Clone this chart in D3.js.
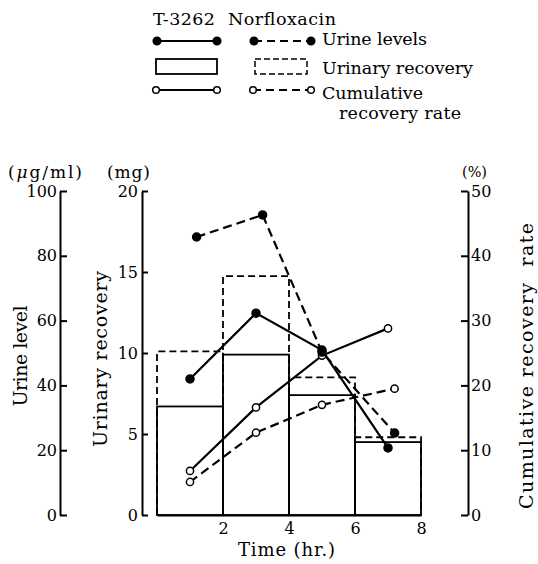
<!DOCTYPE html>
<meta charset="utf-8">
<head>
<style>
body { margin: 0; background: #fff; }
svg { display: block; }
text { font-family: "DejaVu Serif", serif; fill: #000; }
.axis text { font-family: "DejaVu Serif", serif; font-size: 16px; }
.axis path, .axis line { stroke: #000; stroke-width: 2px; }
</style>
<script src="https://d3js.org/d3.v7.min.js"></script>
</head>
<body>
<svg width="538" height="564"></svg>
<script>

// urinary recovery bars (mg), per 2 hr collection period
var binStart = [0, 2, 4, 6];
var binEnd = [2, 4, 6, 8];
var recoveryT3262 = [6.7, 9.9, 7.4, 4.5];
var recoveryNorflox = [10.1, 14.75, 8.5, 4.8];

// urine levels (ug/ml)
var urineTimeT3262 = [1, 3, 5, 7];
var urineT3262 = [42.0, 62.3, 50.9, 20.7];
var urineTimeNorflox = [1.2, 3.2, 5, 7.2];
var urineNorflox = [85.8, 92.6, 50.3, 25.3];

// cumulative recovery rate (%)
var cumTimeT3262 = [1, 3, 5, 7];
var cumT3262 = [6.8, 16.6, 24.6, 28.8];
var cumTimeNorflox = [1, 3, 5, 7.2];
var cumNorflox = [5.1, 12.7, 17.0, 19.5];

var xTicks = [2, 4, 6, 8];
var urineTicks = [0, 20, 40, 60, 80, 100];
var mgTicks = [0, 5, 10, 15, 20];
var pctTicks = [0, 10, 20, 30, 40, 50];

var svg = d3.select("svg");

var x = d3.scaleLinear().domain([0, 8]).range([157, 421]);
var yUrine = d3.scaleLinear().domain([0, 100]).range([515, 191]);
var yMg = d3.scaleLinear().domain([0, 20]).range([515, 191]);
var yPct = d3.scaleLinear().domain([0, 50]).range([515, 191]);

// axes
svg.append("g")
    .attr("class", "axis")
    .attr("transform", "translate(60,0)")
    .call(d3.axisLeft(yUrine).tickValues(urineTicks).tickSize(-7).tickSizeOuter(0).tickPadding(3))
    .attr("font-family", null).attr("font-size", null);

svg.append("g")
    .attr("class", "axis")
    .attr("transform", "translate(142,0)")
    .call(d3.axisLeft(yMg).tickValues(mgTicks).tickSize(-6).tickSizeOuter(0).tickPadding(4))
    .attr("font-family", null).attr("font-size", null);

svg.append("g")
    .attr("class", "axis")
    .attr("transform", "translate(468,0)")
    .call(d3.axisRight(yPct).tickValues(pctTicks).tickSize(-7).tickSizeOuter(0).tickPadding(3))
    .attr("font-family", null).attr("font-size", null);

svg.append("g")
    .attr("class", "axis")
    .attr("transform", "translate(0,515)")
    .call(d3.axisBottom(x).tickValues(xTicks).tickSize(0).tickSizeOuter(0).tickPadding(8))
    .attr("font-family", null).attr("font-size", null);

// bars
var bars = binStart.map(function(d, i) {
  return {x0: binStart[i], x1: binEnd[i], a: recoveryT3262[i], b: recoveryNorflox[i]};
});

svg.append("g").selectAll("path")
  .data(bars)
  .enter().append("path")
    .attr("d", function(d) {
      return "M" + x(d.x0) + "," + yMg(0) + "V" + yMg(d.b) + "H" + x(d.x1) + "V" + yMg(0);
    })
    .attr("fill", "none")
    .attr("stroke", "#000")
    .attr("stroke-width", 1.8)
    .attr("stroke-dasharray", "7,4");

svg.append("g").selectAll("rect")
  .data(bars)
  .enter().append("rect")
    .attr("x", function(d) { return x(d.x0); })
    .attr("y", function(d) { return yMg(d.a); })
    .attr("width", function(d) { return x(d.x1) - x(d.x0); })
    .attr("height", function(d) { return yMg(0) - yMg(d.a); })
    .attr("fill", "none")
    .attr("stroke", "#000")
    .attr("stroke-width", 1.8);

function pairs(ts, vs) {
  return ts.map(function(t, i) { return [t, vs[i]]; });
}

function drawSeries(data, yScale, dashed) {
  var line = d3.line()
      .x(function(d) { return x(d[0]); })
      .y(function(d) { return yScale(d[1]); });
  svg.append("path")
      .datum(data)
      .attr("d", line)
      .attr("fill", "none")
      .attr("stroke", "#000")
      .attr("stroke-width", 2.2)
      .attr("stroke-dasharray", dashed ? "9,5" : null);
}

var cumA = pairs(cumTimeT3262, cumT3262);
var cumB = pairs(cumTimeNorflox, cumNorflox);
var urA = pairs(urineTimeT3262, urineT3262);
var urB = pairs(urineTimeNorflox, urineNorflox);

drawSeries(cumA, yPct, false);
drawSeries(cumB, yPct, true);
drawSeries(urA, yUrine, false);
drawSeries(urB, yUrine, true);

function drawDots(data, yScale, filled) {
  svg.append("g").selectAll("circle")
    .data(data)
    .enter().append("circle")
      .attr("cx", function(d) { return x(d[0]); })
      .attr("cy", function(d) { return yScale(d[1]); })
      .attr("r", filled ? 4 : 3.6)
      .attr("fill", filled ? "#000" : "#fff")
      .attr("stroke", "#000")
      .attr("stroke-width", 1.5);
}

drawDots(cumA, yPct, false);
drawDots(cumB, yPct, false);
drawDots(urA, yUrine, true);
drawDots(urB, yUrine, true);

// axis titles and units
function vtitle(label, bx, cy, len) {
  svg.append("text")
      .attr("transform", "translate(" + bx + "," + cy + ") rotate(-90)")
      .attr("text-anchor", "middle")
      .attr("font-size", 19)
      .attr("textLength", len)
      .attr("lengthAdjust", "spacing")
      .style("white-space", "pre")
      .text(label);
}
vtitle("Urine level", 27, 356, 101);
vtitle("Urinary recovery", 107, 359, 176);
vtitle("Cumulative recovery  rate", 533, 366, 286);

var unitUg = svg.append("text")
    .attr("x", 8).attr("y", 178)
    .attr("font-size", 17)
    .attr("textLength", 74)
    .attr("lengthAdjust", "spacing")
    .style("white-space", "pre");
unitUg.append("tspan").text("(");
unitUg.append("tspan").attr("font-style", "italic").text("μ");
unitUg.append("tspan").text("g/ml)");

svg.append("text")
    .attr("x", 107).attr("y", 178)
    .attr("font-size", 17)
    .attr("textLength", 43)
    .attr("lengthAdjust", "spacing")
    .text("(mg)");

svg.append("text")
    .attr("x", 462).attr("y", 177)
    .attr("font-size", 15)
    .attr("textLength", 25)
    .attr("lengthAdjust", "spacingAndGlyphs")
    .text("(%)");

svg.append("text")
    .attr("x", 238).attr("y", 556)
    .attr("font-size", 18)
    .attr("textLength", 97)
    .attr("lengthAdjust", "spacing")
    .text("Time (hr.)");

// legend
var legend = svg.append("g");

function legendText(label, x0, y0, len) {
  legend.append("text")
      .attr("x", x0).attr("y", y0)
      .attr("font-size", 17.5)
      .attr("textLength", len)
      .attr("lengthAdjust", "spacing")
      .text(label);
}

legendText("T-3262", 153, 25, 62);
legendText("Norfloxacin", 228, 25, 108);

function legendLine(x1, x2, y, dashed, filled) {
  legend.append("line")
      .attr("x1", x1).attr("x2", x2).attr("y1", y).attr("y2", y)
      .attr("stroke", "#000")
      .attr("stroke-width", 2.2)
      .attr("stroke-dasharray", dashed ? "8,5" : null);
  legend.selectAll(null)
    .data([x1, x2])
    .enter().append("circle")
      .attr("cx", function(d) { return d; })
      .attr("cy", y)
      .attr("r", filled ? 3.8 : 3.3)
      .attr("fill", filled ? "#000" : "#fff")
      .attr("stroke", "#000")
      .attr("stroke-width", 1.5);
}

legendLine(157, 217, 41, false, true);
legendLine(254, 311, 41, true, true);

legend.append("rect")
    .attr("x", 156).attr("y", 59).attr("width", 61).attr("height", 15)
    .attr("fill", "none").attr("stroke", "#000").attr("stroke-width", 1.8);
legend.append("rect")
    .attr("x", 255).attr("y", 59).attr("width", 52).attr("height", 15)
    .attr("fill", "none").attr("stroke", "#000").attr("stroke-width", 1.5)
    .attr("stroke-dasharray", "6,3");

legendLine(156, 217, 90, false, false);
legendLine(253, 311, 90, true, false);

legendText("Urine levels", 322, 45, 105);
legendText("Urinary recovery", 322, 74, 151);
legendText("Cumulative", 322, 99, 101);
legendText("recovery rate", 339, 119, 122);

</script>
</body>
